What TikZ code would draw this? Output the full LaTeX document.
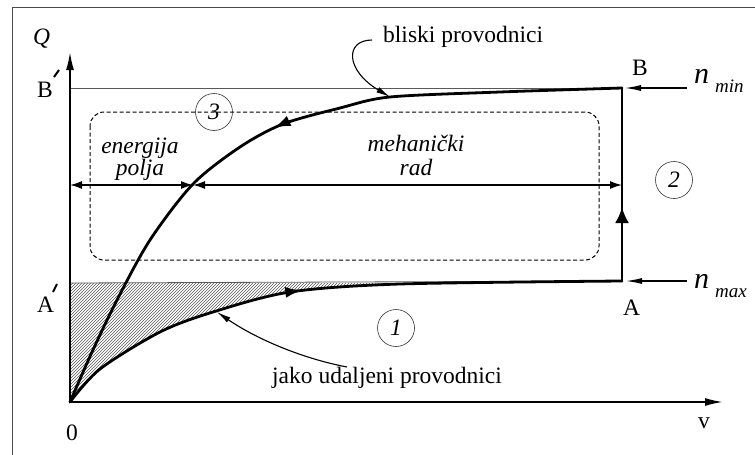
\documentclass[tikz,border=0pt]{standalone}
\usepackage{fontspec}
\setmainfont{Liberation Serif}
\usetikzlibrary{arrows.meta,decorations.markings,patterns}
\begin{document}
\begin{tikzpicture}[x=1pt,y=-1pt,
  txt/.style={inner sep=0pt,font=\fontsize{23.5}{26}\selectfont},
  itx/.style={inner sep=0pt,font=\fontsize{23.5}{26}\selectfont\itshape},
  bign/.style={inner sep=0pt,font=\fontsize{30}{32}\selectfont\itshape},
  subn/.style={inner sep=0pt,font=\fontsize{19}{21}\selectfont\itshape},
  ring/.style={circle,draw=black!80,line width=0.6pt,minimum size=37pt,inner sep=0pt,font=\fontsize{23.5}{26}\selectfont\itshape},
  curve/.style={line width=2.8pt,line join=round,line cap=round},
  guide/.style={line width=0.8pt,draw=black!65},
  frameline/.style={line width=1pt,draw=black!70},
  axis/.style={line width=1.8pt,-{Latex[length=18pt,width=8pt]}},
  span/.style={line width=1.5pt,{Latex[length=12pt,width=8pt]}-{Latex[length=12pt,width=8pt]}},
  pointer/.style={line width=1.2pt,-{Latex[length=16pt,width=6pt]}},
  callout/.style={line width=1.1pt,-{Latex[length=14pt,width=6pt]}},
  tick/.style={line width=2pt},
  dashbox/.style={line width=1pt,dash pattern=on 4pt off 2.5pt,rounded corners=14pt}
]
\useasboundingbox (0,0) rectangle (755,455);

% key points
\coordinate (O) at (70,402);
\coordinate (Ytop) at (70,52);
\coordinate (Xend) at (723,402);
\coordinate (Bp) at (70,88);
\coordinate (Ap) at (70,283);
\coordinate (B) at (622,88);
\coordinate (A) at (622,281);
\coordinate (L) at (70,185);
\coordinate (M) at (193,185);
\coordinate (R) at (622,185);
\coordinate (Nmin) at (687,88);
\coordinate (Nmax) at (687,281);
\coordinate (Bmin) at (625,88);
\coordinate (Bmax) at (626,281);

% frame
\draw[frameline] (12,455) -- (12,7) -- (755,7);

% hatched region
\begin{scope}
\clip (70,283) rectangle (622,402);
\fill[pattern=north east lines,pattern color=black!65]
  plot[smooth] coordinates {(70,402) (100,369) (160,332) (213,312) (290,292) (400,284) (622,281)}
  -- (622,200) -- (70,200) -- cycle;
\end{scope}

% guide lines
\draw[guide] (Bp) -- (B);
\draw[guide] (Ap) -- (A);

% dashed box
\draw[dashbox] (90,112) rectangle (599,260);

% axes
\draw[axis] (O) -- (Ytop);
\draw[axis] (O) -- (Xend);

% spans
\draw[span] (L) -- (M);
\draw[span] (M) -- (R);

% lower curve
\draw[curve,postaction={decorate},decoration={markings,mark=at position 264pt with {\arrow{Latex[length=17pt,width=11pt]}}}]
  plot[smooth] coordinates {(70,402) (100,369) (160,332) (213,312) (290,292) (400,284) (622,281)};
% upper curve
\draw[curve,postaction={decorate},decoration={markings,mark=at position 350pt with {\arrowreversed{Latex[length=17pt,width=11pt]}}}]
  plot[smooth] coordinates {(70,402) (92,352) (117,300) (150,240) (193,184) (240,147) (283,124) (340,108) (390,97) (500,92) (622,88)};
% vertical
\draw[curve,postaction={decorate},decoration={markings,mark=at position 74pt with {\arrow{Latex[length=16pt,width=14pt]}}}]
  (A) -- (B);

% n arrows
\draw[pointer] (Nmin) -- (Bmin);
\draw[pointer] (Nmax) -- (Bmax);

% labels
\node[itx,anchor=base west] (q) at (33,44) {Q};
\node[txt,anchor=base west] (bpl) at (37,97) {B};
\draw[tick] (54,77) -- (59,70);
\node[txt,anchor=base west] (apl) at (37,312) {A};
\draw[tick] (53,292) -- (57,284);
\node[txt,anchor=base] (zero) at (72,440) {0};
\node[txt,anchor=base west] (vl) at (698,428) {v};
\node[txt,anchor=base west] (bl) at (632,75) {B};
\node[txt,anchor=base west] (al) at (623,315) {A};
\node[bign,anchor=base west] (n1) at (694,83) {n};
\node[subn,anchor=base west] (n1s) at (715,92) {min};
\node[bign,anchor=base west] (n2) at (694,288) {n};
\node[subn,anchor=base west] (n2s) at (715,297) {max};

\node[itx,anchor=base] (en) at (140,153) {energija};
\node[itx,anchor=base] (po) at (140,175) {polja};
\node[itx,anchor=base] (me) at (416,151) {mehanički};
\node[itx,anchor=base] (ra) at (416,175) {rad};

\node[ring] (c3) at (214,112) {3};
\node[ring] (c2) at (674,180) {2};
\node[ring] (c1) at (396,328) {1};

\node[txt,anchor=base west] (bliski) at (383,42) {bliski provodnici};
\node[txt,anchor=base west] (jako) at (272,383) {jako udaljeni provodnici};

\coordinate (bs) at (372,40);
\coordinate (bt) at (390,97);
\draw[callout] (bs) .. controls (345,40) and (345,70) .. (bt);
\coordinate (js) at (347,367);
\coordinate (jt) at (217,312);
\draw[callout] (js) .. controls (300,358) and (255,338) .. (jt);
\end{tikzpicture}
\end{document}
